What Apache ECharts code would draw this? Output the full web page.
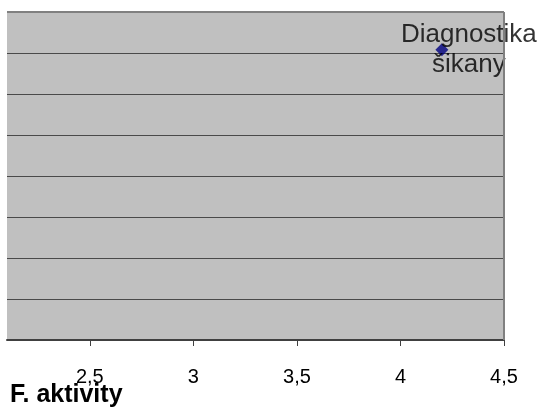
<!DOCTYPE html>
<html>
<head>
<meta charset="utf-8">
<script src="https://cdn.jsdelivr.net/npm/echarts@6/dist/echarts.min.js"></script>
<style>
html,body{margin:0;padding:0;background:#fff;}
#c{width:543px;height:414px;}
</style>
</head>
<body>
<div id="c"></div>
<script>
const pointNames = ['Diagnostika\nšikany'];
const xValues = [4.2];
const yValues = [7.08];
const xTickValues = [2.5, 3, 3.5, 4, 4.5];
const axisTitle = 'F. aktivity';

const chart = echarts.init(document.getElementById('c'));
chart.setOption({
  animation: false,
  title: {
    text: axisTitle, left: 10, top: 383, padding: 0,
    textStyle: {fontFamily: 'Liberation Sans', fontWeight: 'bold', fontSize: 25, color: '#000'}
  },
  grid: {
    left: 7, right: 39, top: 12, bottom: 74,
    show: true, backgroundColor: '#c0c0c0', borderColor: '#808080', borderWidth: 0
  },
  xAxis: {
    type: 'value', min: 2.1, max: 4.5,
    axisLine: {show: true, onZero: false, lineStyle: {color: '#404040', width: 2}},
    axisTick: {show: true, length: 6, customValues: xTickValues, lineStyle: {color: '#404040', width: 1}},
    axisLabel: {
      customValues: xTickValues, margin: 27, color: '#000',
      fontFamily: 'Liberation Sans', fontSize: 20,
      formatter: v => String(v).replace('.', ',')
    },
    splitLine: {show: false}
  },
  yAxis: {
    type: 'value', min: 0, max: 8, interval: 1,
    axisLine: {show: false}, axisTick: {show: false}, axisLabel: {show: false},
    splitLine: {show: true, lineStyle: {color: '#4a4a4a', width: 1}}
  },
  series: [
    {
      type: 'line', data: [[2.1, 8], [4.5, 8]], symbol: 'none', silent: true,
      lineStyle: {color: '#808080', width: 2}
    },
    {
      type: 'line', data: [[4.5, 0], [4.5, 8]], symbol: 'none', silent: true,
      lineStyle: {color: '#808080', width: 2}
    },
    {
      type: 'scatter',
      symbol: 'diamond', symbolSize: 13,
      itemStyle: {color: '#000080'},
      data: xValues.map((x, i) => ({value: [x, yValues[i]], name: pointNames[i]})),
      label: {
        show: true, position: 'inside', offset: [27, 0],
        formatter: p => p.name, align: 'center',
        fontFamily: 'Liberation Sans', fontSize: 26, lineHeight: 30, color: '#000',
        textBorderWidth: 0
      }
    }
  ]
});
</script>
</body>
</html>
